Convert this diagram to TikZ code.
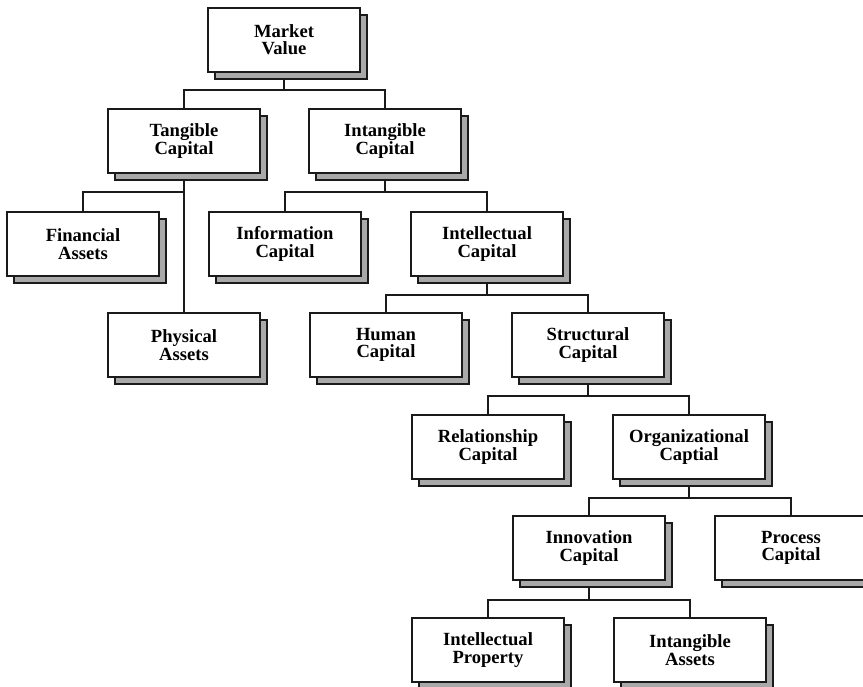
\documentclass[tikz,border=0pt]{standalone}
\usepackage{fontspec}
\setmainfont{Liberation Serif}
\usetikzlibrary{shadows,calc}
\definecolor{shadowgray}{HTML}{A9A9A9}
\definecolor{ink}{HTML}{1A1A1A}
\begin{document}
\begin{tikzpicture}[x=1pt,y=-1pt,
  box/.style={draw=ink, line width=1.2pt, fill=white,
    minimum width=152pt, minimum height=64pt, inner sep=0pt, align=center,
    font=\fontsize{18.6}{17.3}\selectfont\bfseries,
    drop shadow={shadow xshift=7pt, shadow yshift=-7pt, fill=shadowgray,
      draw=ink, line width=1.2pt, opacity=1}},
  link/.style={draw=ink, line width=1.1pt}]
\useasboundingbox (0,0) rectangle (863,687);
\clip (0,0) rectangle (863,687);

% connectors first, so the boxes sit on top of them
\coordinate (mvc) at (284,40);
\coordinate (tcc) at (184,141);
\coordinate (icc) at (385,141);
\coordinate (fac) at (83,244);
\coordinate (pac) at (184,345);
\coordinate (infc) at (285,244);
\coordinate (intc) at (487,244);
\coordinate (hcc) at (386,345);
\coordinate (scc) at (588,345);
\coordinate (rcc) at (488,447);
\coordinate (occ) at (689,447);
\coordinate (inc) at (589,548);
\coordinate (pcc) at (791,548);
\coordinate (ipc) at (488,650);
\coordinate (iac) at (690,650);

\coordinate (b1) at ($(mvc)+(0,50)$);
\coordinate (b2) at ($(tcc)+(0,51)$);
\coordinate (b3) at ($(icc)+(0,51)$);
\coordinate (b4) at ($(intc)+(0,51)$);
\coordinate (b5) at ($(scc)+(0,51)$);
\coordinate (b6) at ($(occ)+(0,51)$);
\coordinate (b7) at ($(inc)+(0,52)$);

\draw[link] (mvc) -- (b1);
\draw[link] (tcc) |- (b1) -| (icc);
\draw[link] (tcc) -- (pac);
\draw[link] (b2) -| (fac);
\draw[link] (icc) -- (b3);
\draw[link] (infc) |- (b3) -| (intc);
\draw[link] (intc) -- (b4);
\draw[link] (hcc) |- (b4) -| (scc);
\draw[link] (scc) -- (b5);
\draw[link] (rcc) |- (b5) -| (occ);
\draw[link] (occ) -- (b6);
\draw[link] (inc) |- (b6) -| (pcc);
\draw[link] (inc) -- (b7);
\draw[link] (ipc) |- (b7) -| (iac);

% boxes
\node[box] (mv)   at (mvc)  {Market\\Value};
\node[box] (tc)   at (tcc)  {Tangible\\Capital};
\node[box] (ic)   at (icc)  {Intangible\\Capital};
\node[box] (fa)   at (fac)  {Financial\\Assets};
\node[box] (pa)   at (pac)  {Physical\\Assets};
\node[box] (inf)  at (infc) {Information\\Capital};
\node[box] (int)  at (intc) {Intellectual\\Capital};
\node[box] (hc)   at (hcc)  {Human\\Capital};
\node[box] (sc)   at (scc)  {Structural\\Capital};
\node[box] (rc)   at (rcc)  {Relationship\\Capital};
\node[box] (oc)   at (occ)  {Organizational\\Captial};
\node[box] (inno) at (inc)  {Innovation\\Capital};
\node[box] (pc)   at (pcc)  {Process\\Capital};
\node[box] (ip)   at (ipc)  {Intellectual\\Property};
\node[box] (ia)   at (iac)  {Intangible\\Assets};
\end{tikzpicture}
\end{document}
